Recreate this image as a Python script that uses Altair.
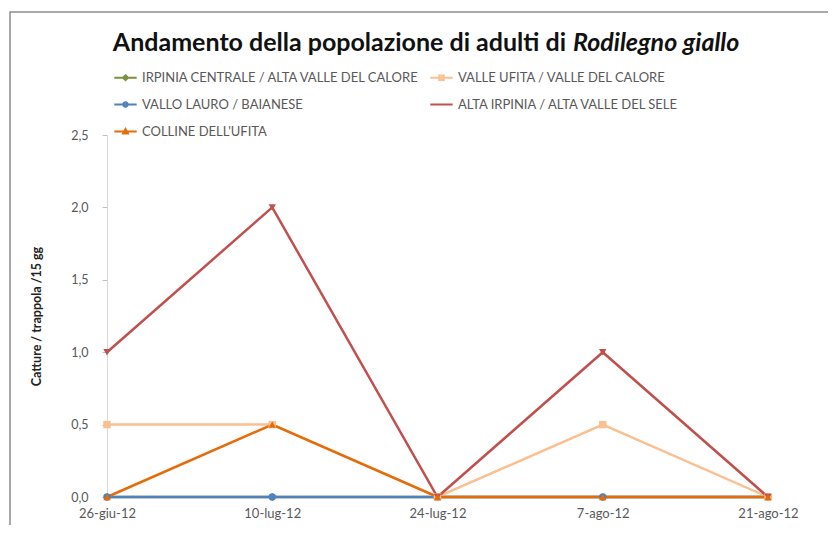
import altair as alt
import pandas as pd

dates = ["26-giu-12", "10-lug-12", "24-lug-12", "7-ago-12", "21-ago-12"]
series_names = [
    "IRPINIA CENTRALE / ALTA VALLE DEL CALORE",
    "VALLE UFITA / VALLE DEL CALORE",
    "VALLO LAURO / BAIANESE",
    "ALTA IRPINIA / ALTA VALLE DEL  SELE",
    "COLLINE DELL'UFITA",
]
irpinia_centrale = [0, 0, 0, 0, 0]
valle_ufita = [0.5, 0.5, 0, 0.5, 0]
vallo_lauro = [0, 0, 0, 0, 0]
alta_irpinia = [1.0, 2.0, 0, 1.0, 0]
colline_ufita = [0, 0.5, 0, 0, 0]

colors = ["#77933C", "#FAC090", "#4F81BD", "#C0504D", "#E46C0A"]
marker_shapes = ["diamond", "square", "circle", "triangle-down", "triangle-up"]
legend_shapes = [
    "M-1,0L1,0M0,-0.22L0.22,0L0,0.22L-0.22,0Z",
    "M-1,0L1,0M-0.2,-0.2L0.2,-0.2L0.2,0.2L-0.2,0.2Z",
    "M-1,0L1,0M-0.2,0A0.2,0.2,0,1,0,0.2,0A0.2,0.2,0,1,0,-0.2,0",
    "M-1,0L1,0",
    "M-1,0L1,0M0,-0.22L0.22,0.18L-0.22,0.18Z",
]

# drawing order: later series on top
draw_order = [0, 2, 1, 3, 4]
# legend order (grid fills column by column: 3 rows)
legend_order = [0, 2, 4, 1, 3]

all_values = [irpinia_centrale, valle_ufita, vallo_lauro, alta_irpinia, colline_ufita]
rows = []
for k, idx in enumerate(draw_order):
    for d, v in zip(dates, all_values[idx]):
        rows.append({"data": d, "serie": series_names[idx], "valore": v, "ord": k})
df = pd.DataFrame(rows)

W, H = 661, 362
LABEL_COLOR = "#595959"
FONT = "Lato"

xenc = alt.X("data:N", sort=dates,
             scale=alt.Scale(type="point", padding=0),
             axis=alt.Axis(title=None, labelAngle=0, labelColor=LABEL_COLOR,
                           labelFontSize=13, labelFont=FONT, labelPadding=10,
                           ticks=False, domainColor="#D9D9D9", domainWidth=1))
yenc = alt.Y("valore:Q",
             scale=alt.Scale(domain=[0, 2.5], nice=False),
             axis=alt.Axis(title="Catture / trappola /15 gg", values=[0, 0.5, 1, 1.5, 2, 2.5],
                           labelExpr="replace(format(datum.value, '.1f'), '.', ',')",
                           labelColor=LABEL_COLOR, labelFontSize=12.5, labelFont=FONT,
                           tickSize=5, tickColor="#BFBFBF", labelPadding=14,
                           domainColor="#D9D9D9", grid=False,
                           titleFontSize=12.5, titleFont=FONT, titleFontWeight="bold",
                           titleColor="#222222", titlePadding=27))

color_scale = alt.Scale(domain=series_names, range=colors)

lines = alt.Chart(df).mark_line(strokeWidth=2.5).encode(
    x=xenc, y=yenc,
    color=alt.Color("serie:N", scale=color_scale, legend=None),
    detail="serie:N",
    order=alt.Order("ord:Q"),
)

points = alt.Chart(df).mark_point(filled=True, size=55, opacity=1).encode(
    x=xenc, y=yenc,
    color=alt.Color("serie:N", scale=color_scale, legend=None),
    shape=alt.Shape("serie:N", scale=alt.Scale(domain=series_names, range=marker_shapes), legend=None),
    order=alt.Order("ord:Q"),
)

leg_domain = [series_names[i] for i in legend_order]
leg_colors = [colors[i] for i in legend_order]
leg_shapes = [legend_shapes[i] for i in legend_order]
leg_props = dict(title=None, orient="none", legendX=6, legendY=-70,
                 columns=2, columnPadding=6, rowPadding=7,
                 symbolSize=500, symbolStrokeWidth=2,
                 labelFont=FONT, labelFontSize=13,
                 labelColor=LABEL_COLOR, labelLimit=500,
                 labelOffset=4)

legend_layer = alt.Chart(df).transform_filter("false").mark_point(filled=False, strokeWidth=2, opacity=1).encode(
    x=xenc, y=yenc,
    color=alt.Color("serie:N", scale=alt.Scale(domain=leg_domain, range=leg_colors),
                    legend=alt.Legend(**leg_props)),
    shape=alt.Shape("serie:N", scale=alt.Scale(domain=leg_domain, range=leg_shapes),
                    legend=alt.Legend(**leg_props)),
)

one = pd.DataFrame({"a": [0]})
frame = alt.Chart(one).mark_rect(fill=None, stroke="#8C8C8C", strokeWidth=1.5).encode(
    x=alt.value(-97), x2=alt.value(W + 200), y=alt.value(-123), y2=alt.value(H + 200)
)
title_a = alt.Chart(one).mark_text(text="Andamento della popolazione di adulti di", font=FONT,
                                   fontSize=25, fontWeight="bold", align="right",
                                   baseline="middle", color="#111111").encode(
    x=alt.value(459), y=alt.value(-92))
title_b = alt.Chart(one).mark_text(text="Rodilegno giallo", font=FONT, fontSize=25,
                                   fontWeight="bold", fontStyle="italic", align="left",
                                   baseline="middle", color="#111111").encode(
    x=alt.value(466), y=alt.value(-92))

chart = alt.layer(frame, title_a, title_b, lines, points, legend_layer).resolve_scale(
    color="independent", shape="independent"
).properties(
    width=W, height=H,
    autosize=alt.AutoSizeParams(type="none"),
    padding={"left": 99, "top": 127, "right": 60, "bottom": 28},
    background="white",
).configure_view(stroke=None)

chart.save("out.html", embed_options={"renderer": "svg", "actions": False})
